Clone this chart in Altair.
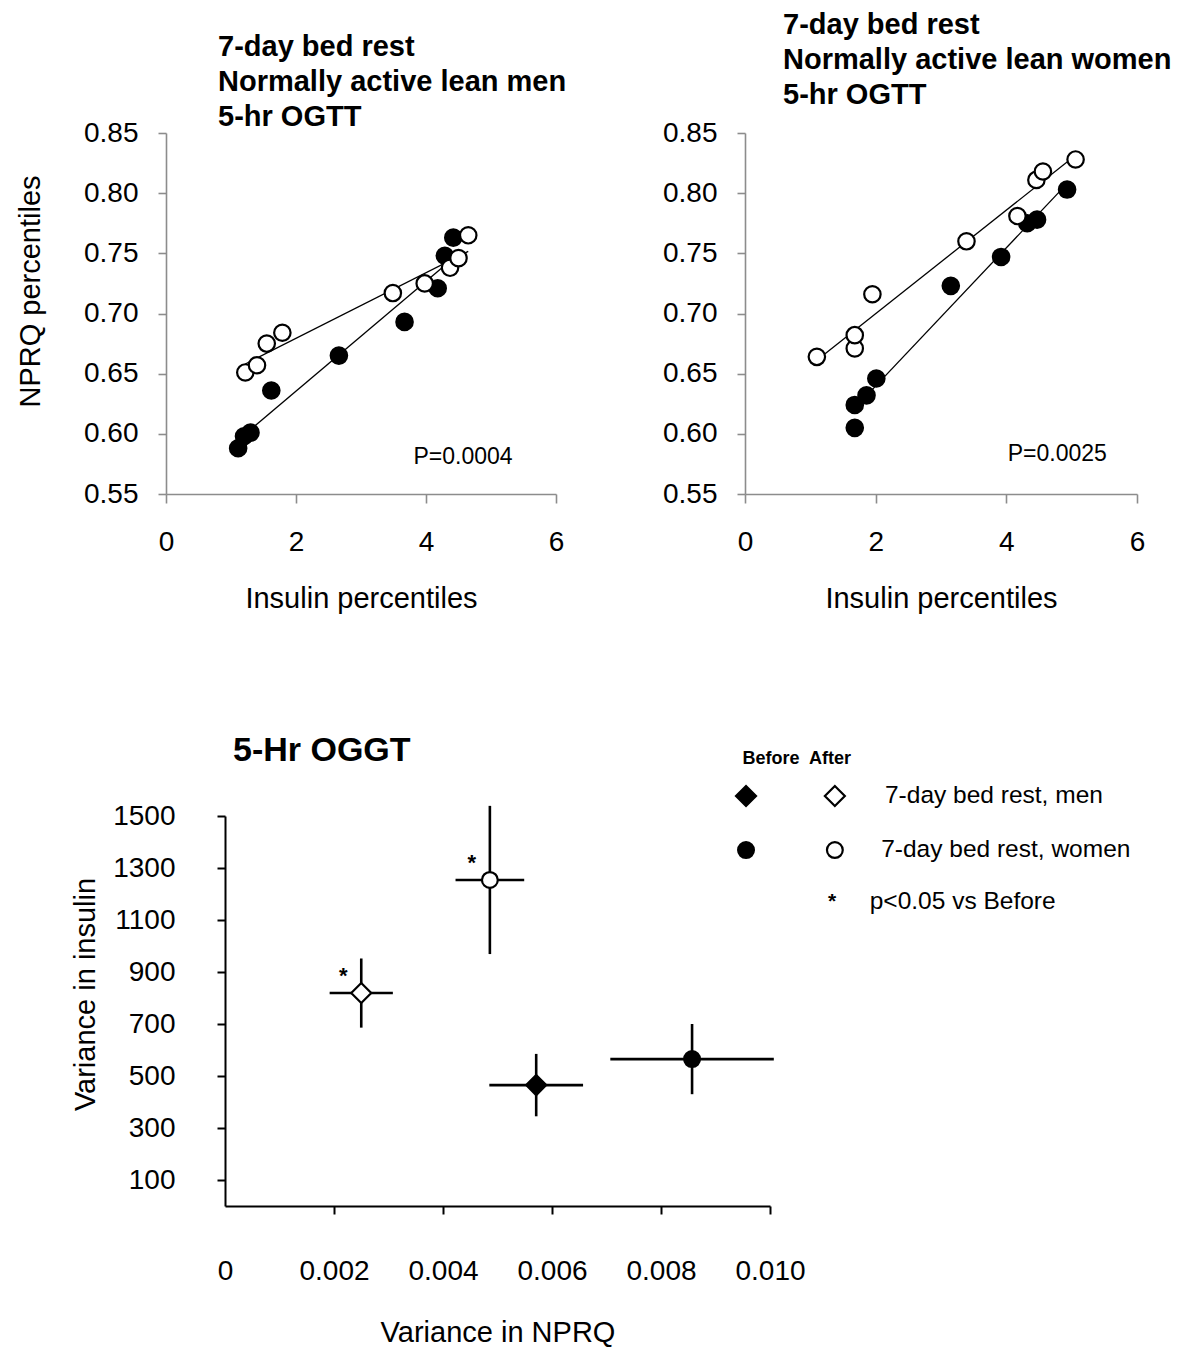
import altair as alt
import pandas as pd

FONT = "Liberation Sans"

# ---------------- data: top-left (men) ----------------
men_before_x = [1.11, 1.20, 1.30, 1.62, 2.66, 3.67, 4.18, 4.29, 4.42]
men_before_y = [0.588, 0.598, 0.601, 0.636, 0.665, 0.693, 0.721, 0.748, 0.763]
men_after_x = [1.22, 1.40, 1.55, 1.79, 3.49, 3.98, 4.37, 4.50, 4.65]
men_after_y = [0.651, 0.657, 0.675, 0.684, 0.717, 0.725, 0.738, 0.746, 0.765]

# ---------------- data: top-right (women) ----------------
women_before_x = [1.68, 1.68, 1.86, 2.01, 3.15, 3.92, 4.32, 4.47, 4.93]
women_before_y = [0.605, 0.624, 0.632, 0.646, 0.723, 0.747, 0.775, 0.778, 0.803]
women_after_x = [1.10, 1.68, 1.68, 1.95, 3.39, 4.17, 4.46, 4.56, 5.06]
women_after_y = [0.664, 0.671, 0.682, 0.716, 0.760, 0.781, 0.811, 0.818, 0.828]

# ---------------- data: bottom panel ----------------
b_group = ["men", "men", "women", "women"]
b_phase = ["Before", "After", "Before", "After"]
b_nprq = [0.00571, 0.00250, 0.00857, 0.00486]
b_nprq_err = [0.00086, 0.00058, 0.00150, 0.00063]
b_ins = [465, 819, 565, 1254]
b_ins_err = [120, 133, 135, 285]
b_sig = ["", "*", "", "*"]

# legend rows (placed in the bottom panel's data space)
leg_sym_group = ["men", "men", "women", "women"]
leg_sym_phase = ["Before", "After", "Before", "After"]
leg_sym_x = [0.00956, 0.01119, 0.00956, 0.01119]
leg_sym_y = [1577, 1577, 1369, 1369]
leg_text = ["7-day bed rest, men", "7-day bed rest, women", "p<0.05 vs Before"]
leg_text_x = [0.01211, 0.01204, 0.01183]
leg_text_y = [1577, 1369, 1169]
leg_head = ["Before", "After"]
leg_head_x = [0.01002, 0.01110]
leg_head_y = [1719, 1719]
leg_star_x = [0.01114]
leg_star_y = [1169]


def scatter_panel(bx, by, ax, ay, title_lines, p_text, p_x, p_y, title_dx, title_offset,
                  width, height, show_ytitle, ylabel_pad):
    df = pd.DataFrame({
        "x": bx + ax,
        "y": by + ay,
        "phase": ["Before"] * len(bx) + ["After"] * len(ax),
    })
    xs = alt.Scale(domain=[0, 6], nice=False)
    ys = alt.Scale(domain=[0.55, 0.85], nice=False, zero=False)
    xaxis = alt.Axis(values=[0, 2, 4, 6], format="d", title="Insulin percentiles",
                     labelPadding=25, titlePadding=28, tickSize=9, labelFlush=False,
                     labelOverlap=False, domainColor="#8c8c8c", tickColor="#8c8c8c",
                     domainWidth=1.6, tickWidth=1.6, labelFontSize=28, titleFontSize=29,
                     titleFontWeight="normal", labelFont=FONT, titleFont=FONT,
                     labelColor="black", titleColor="black", grid=False)
    yargs = dict(values=[0.55, 0.60, 0.65, 0.70, 0.75, 0.80, 0.85], format=".2f",
                 labelPadding=ylabel_pad, tickSize=8, labelFlush=False, labelOverlap=False,
                 domainColor="#8c8c8c", tickColor="#8c8c8c", domainWidth=1.6, tickWidth=1.6,
                 labelFontSize=28, titleFontSize=29, titleFontWeight="normal",
                 labelFont=FONT, titleFont=FONT, labelColor="black", titleColor="black",
                 grid=False)
    if show_ytitle:
        yaxis = alt.Axis(title="NPRQ percentiles", titleX=-121, titleY=158, **yargs)
    else:
        yaxis = alt.Axis(title=None, **yargs)
    base = alt.Chart(df)
    lines = base.transform_regression("x", "y", groupby=["phase"]).mark_line(
        color="black", strokeWidth=1.3
    ).encode(x=alt.X("x:Q", scale=xs, axis=xaxis), y=alt.Y("y:Q", scale=ys, axis=yaxis),
             detail="phase:N")
    pts = base.mark_point(shape="circle", size=270, strokeWidth=2.2, opacity=1).encode(
        x=alt.X("x:Q", scale=xs),
        y=alt.Y("y:Q", scale=ys),
        fill=alt.Fill("phase:N", scale=alt.Scale(domain=["Before", "After"], range=["black", "white"]), legend=None),
        stroke=alt.value("black"),
        order=alt.Order("phase:N", sort="descending"),
    )
    ptxt = alt.Chart(pd.DataFrame({"x": [p_x], "y": [p_y], "t": [p_text]})).mark_text(
        font=FONT, fontSize=23, color="black"
    ).encode(x=alt.X("x:Q", scale=xs), y=alt.Y("y:Q", scale=ys), text="t:N")
    return alt.layer(lines, pts, ptxt).properties(
        width=width, height=height,
        title=alt.TitleParams(text=title_lines, anchor="start", frame="group", dx=title_dx,
                              offset=title_offset, font=FONT, fontSize=29, fontWeight="bold",
                              lineHeight=35, color="black"),
    )


left = scatter_panel(men_before_x, men_before_y, men_after_x, men_after_y,
                     ["7-day bed rest", "Normally active lean men", "5-hr OGTT"],
                     "P=0.0004", 4.57, 0.581, 52, -13, 390, 361, True, 20)
right = scatter_panel(women_before_x, women_before_y, women_after_x, women_after_y,
                      ["7-day bed rest", "Normally active lean women", "5-hr OGTT"],
                      "P=0.0025", 4.78, 0.583, 38, 9, 392, 361, False, 20)

# ---------------- bottom panel ----------------
bdf = pd.DataFrame({
    "group": b_group, "phase": b_phase, "nprq": b_nprq, "nprq_err": b_nprq_err,
    "ins": b_ins, "ins_err": b_ins_err, "sig": b_sig,
})
bx = alt.Scale(domain=[0, 0.010], nice=False)
by = alt.Scale(domain=[0, 1500], nice=False)
bxaxis = alt.Axis(values=[0, 0.002, 0.004, 0.006, 0.008, 0.010],
                  labelExpr="datum.value == 0 ? '0' : format(datum.value, '.3f')",
                  tickOpacity={"condition": {"test": "datum.value == 0", "value": 0}, "value": 1},
                  title="Variance in NPRQ", labelPadding=43, titlePadding=33, tickSize=8,
                  labelFlush=False, labelOverlap=False,
                  domainColor="black", tickColor="black", domainWidth=2, tickWidth=2,
                  labelFontSize=28, titleFontSize=29, titleFontWeight="normal",
                  labelFont=FONT, titleFont=FONT, labelColor="black", titleColor="black",
                  grid=False)
byaxis = alt.Axis(values=[100, 300, 500, 700, 900, 1100, 1300, 1500], format="d",
                  title="Variance in insulin", titleX=-125, titleY=178,
                  labelPadding=42, tickSize=8, labelFlush=False, labelOverlap=False,
                  domainColor="black", tickColor="black", domainWidth=2, tickWidth=2,
                  labelFontSize=28, titleFontSize=29, titleFontWeight="normal",
                  labelFont=FONT, titleFont=FONT, labelColor="black", titleColor="black",
                  grid=False)

bbase = alt.Chart(bdf).transform_calculate(
    xlo="datum.nprq - datum.nprq_err", xhi="datum.nprq + datum.nprq_err",
    ylo="datum.ins - datum.ins_err", yhi="datum.ins + datum.ins_err",
)
hbar = bbase.mark_rule(color="black", strokeWidth=2.6).encode(
    x=alt.X("xlo:Q", scale=bx, axis=bxaxis), x2="xhi:Q", y=alt.Y("ins:Q", scale=by, axis=byaxis)
)
vbar = bbase.mark_rule(color="black", strokeWidth=2.6).encode(
    x=alt.X("nprq:Q", scale=bx), y=alt.Y("ylo:Q", scale=by), y2="yhi:Q"
)
shape_scale = alt.Scale(domain=["men", "women"], range=["diamond", "circle"])
fill_scale = alt.Scale(domain=["Before", "After"], range=["black", "white"])
size_scale = alt.Scale(domain=["men", "women"], range=[400, 250])
bpts = bbase.mark_point(strokeWidth=2.2, opacity=1, stroke="black").encode(
    x=alt.X("nprq:Q", scale=bx), y=alt.Y("ins:Q", scale=by),
    shape=alt.Shape("group:N", scale=shape_scale, legend=None),
    fill=alt.Fill("phase:N", scale=fill_scale, legend=None),
    size=alt.Size("group:N", scale=size_scale, legend=None),
)
stars = bbase.mark_text(font=FONT, fontSize=22, fontWeight="bold", dx=-18, dy=-17,
                        color="black").encode(
    x=alt.X("nprq:Q", scale=bx), y=alt.Y("ins:Q", scale=by), text="sig:N"
)

# legend
lsym = alt.Chart(pd.DataFrame({"x": leg_sym_x, "y": leg_sym_y, "group": leg_sym_group,
                               "phase": leg_sym_phase})).mark_point(
    strokeWidth=2.2, opacity=1, stroke="black").encode(
    x=alt.X("x:Q", scale=bx), y=alt.Y("y:Q", scale=by),
    shape=alt.Shape("group:N", scale=shape_scale, legend=None),
    fill=alt.Fill("phase:N", scale=fill_scale, legend=None),
    size=alt.Size("group:N", scale=alt.Scale(domain=["men", "women"], range=[260, 200]), legend=None),
)
ltxt = alt.Chart(pd.DataFrame({"x": leg_text_x, "y": leg_text_y, "t": leg_text})).mark_text(
    font=FONT, fontSize=24.5, align="left", color="black").encode(
    x=alt.X("x:Q", scale=bx), y=alt.Y("y:Q", scale=by), text="t:N")
lhead = alt.Chart(pd.DataFrame({"x": leg_head_x, "y": leg_head_y, "t": leg_head})).mark_text(
    font=FONT, fontSize=18, fontWeight="bold", align="center", color="black").encode(
    x=alt.X("x:Q", scale=bx), y=alt.Y("y:Q", scale=by), text="t:N")
lstar = alt.Chart(pd.DataFrame({"x": leg_star_x, "y": leg_star_y, "t": ["*"]})).mark_text(
    font=FONT, fontSize=21, fontWeight="bold", align="center", color="black").encode(
    x=alt.X("x:Q", scale=bx), y=alt.Y("y:Q", scale=by), text="t:N")

bottom = alt.layer(hbar, vbar, bpts, stars, lsym, ltxt, lhead, lstar).properties(
    width=545, height=390,
    title=alt.TitleParams(text="5-Hr OGGT", anchor="start", frame="group", dx=8, offset=-18,
                          font=FONT, fontSize=34, fontWeight="bold", color="black"),
)

spacer = alt.Chart(pd.DataFrame({"a": [0]})).mark_point(opacity=0).encode(
    x=alt.X("a:Q", axis=None), y=alt.Y("a:Q", axis=None)
).properties(width=59, height=10)

row1 = alt.hconcat(left, right, spacing=189, bounds="flush")
row2 = alt.hconcat(spacer, bottom, spacing=0, bounds="flush")

chart = alt.vconcat(row1, row2, spacing=683, bounds="flush").properties(
    padding={"left": 15, "top": 11, "right": 5, "bottom": 5}
).configure(background="white", view=alt.ViewConfig(stroke=None))

chart.save("out.html", embed_options={"renderer": "svg", "actions": False})
